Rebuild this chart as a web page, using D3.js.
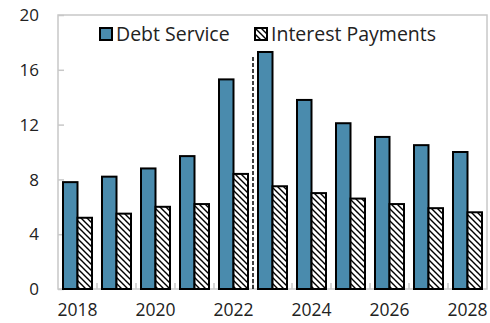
<!DOCTYPE html>
<html>
<head>
<meta charset="utf-8">
<script src="https://cdn.jsdelivr.net/npm/d3@7"></script>
<style>
  body { margin: 0; background: #fff; }
  text { font-family: "Open Sans", "Noto Sans", sans-serif; fill: #222; }
</style>
</head>
<body>
<div id="root"></div>
<script>
// Chart data
const years = ['2018', '2019', '2020', '2021', '2022', '2023', '2024', '2025', '2026', '2027', '2028']
const debtService = [7.8, 8.2, 8.8, 9.7, 15.3, 17.3, 13.8, 12.1, 11.1, 10.5, 10.0]
const interestPayments = [5.2, 5.5, 6.0, 6.2, 8.4, 7.5, 7.0, 6.6, 6.2, 5.9, 5.6]
const yTicks = [0, 4, 8, 12, 16, 20]
const xLabels = ['2018', '2020', '2022', '2024', '2026', '2028']
const projectionStart = '2023'
const projectionTop = 17

const margin = { top: 15, right: 3, bottom: 34, left: 58 }
const width = 490 - margin.left - margin.right
const height = 323 - margin.top - margin.bottom

const svg = d3.select('#root').append('svg')
  .attr('width', 490)
  .attr('height', 323)

// hatch pattern for interest bars
const defs = svg.append('defs')
const pat = defs.append('pattern')
  .attr('id', 'hatch')
  .attr('patternUnits', 'userSpaceOnUse')
  .attr('width', 6).attr('height', 6)
pat.append('rect').attr('width', 6).attr('height', 6).attr('fill', '#fff')
pat.append('path')
  .attr('d', 'M-1,-1 L7,7 M-1,5 L1,7 M5,-1 L7,1')
  .attr('stroke', '#000').attr('stroke-width', 1.4)

const g = svg.append('g')
  .attr('transform', `translate(${margin.left},${margin.top})`)

const x = d3.scaleBand().domain(years).range([0, width])
const y = d3.scaleLinear().domain([0, 20]).range([height, 0])
const barW = 14.5

// frame
g.append('rect')
  .attr('width', width).attr('height', height)
  .attr('fill', 'none').attr('stroke', '#c8c8c8').attr('stroke-width', 1.5)

// y axis ticks (inward) and labels
const yAxis = g.append('g')
  .call(d3.axisRight(y).tickValues(yTicks).tickSize(6).tickFormat(''))
yAxis.select('.domain').remove()
yAxis.selectAll('line').attr('stroke', '#c8c8c8').attr('stroke-width', 1.5)
g.selectAll('.ylab').data(yTicks).enter().append('text')
  .attr('x', -19).attr('y', d => y(d)).attr('dy', '0.36em')
  .attr('text-anchor', 'end').attr('font-size', 17)
  .text(d => d)

// x axis category ticks
const bounds = years.slice(1).map(d => x(d))
g.selectAll('.xtick').data(bounds).enter().append('line')
  .attr('x1', d => d).attr('x2', d => d)
  .attr('y1', height).attr('y2', height - 6)
  .attr('stroke', '#c8c8c8').attr('stroke-width', 1.5)
g.selectAll('.xlab').data(xLabels).enter().append('text')
  .attr('x', d => x(d) + x.bandwidth() / 2)
  .attr('y', height + 27)
  .attr('text-anchor', 'middle').attr('font-size', 17.5)
  .text(d => d)

// bars
const mid = d => x(d) + x.bandwidth() / 2
g.selectAll('.debt').data(years).enter().append('rect')
  .attr('x', d => mid(d) - barW)
  .attr('y', (d, i) => y(debtService[i]))
  .attr('width', barW)
  .attr('height', (d, i) => height - y(debtService[i]))
  .attr('fill', '#4a8bad').attr('stroke', '#000').attr('stroke-width', 2)
g.selectAll('.int').data(years).enter().append('rect')
  .attr('x', d => mid(d))
  .attr('y', (d, i) => y(interestPayments[i]))
  .attr('width', barW)
  .attr('height', (d, i) => height - y(interestPayments[i]))
  .attr('fill', 'url(#hatch)').attr('stroke', '#000').attr('stroke-width', 2)

// projection divider
g.append('line')
  .attr('x1', x(projectionStart)).attr('x2', x(projectionStart))
  .attr('y1', y(0)).attr('y2', y(projectionTop))
  .attr('stroke', '#000').attr('stroke-width', 1.5)
  .attr('stroke-dasharray', '4,2')

// legend
const legend = [
  { label: 'Debt Service', fill: '#4a8bad', x: 42 },
  { label: 'Interest Payments', fill: 'url(#hatch)', x: 197 }
]
const lg = g.selectAll('.leg').data(legend).enter().append('g')
  .attr('transform', d => `translate(${d.x},13)`)
lg.append('rect')
  .attr('width', 12).attr('height', 12)
  .attr('fill', d => d.fill).attr('stroke', '#000').attr('stroke-width', 2)
lg.append('text')
  .attr('x', 16).attr('y', 6).attr('dy', '0.36em')
  .attr('font-size', 19.5)
  .text(d => d.label)
</script>
</body>
</html>
